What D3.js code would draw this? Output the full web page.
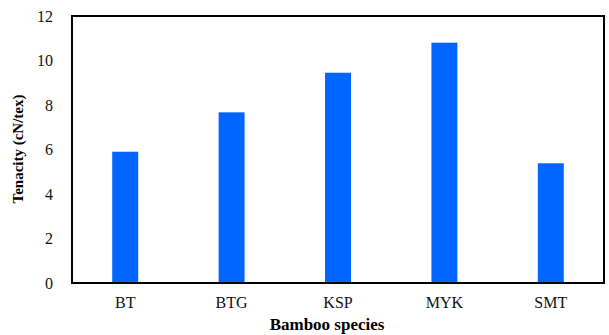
<!DOCTYPE html>
<html>
<head>
<meta charset="utf-8">
<script src="https://cdn.jsdelivr.net/npm/d3@7"></script>
<style>
  body { margin: 0; background: #fff; }
</style>
</head>
<body>
<div id="chart"></div>
<script>
// Chart data
const species = ["BT", "BTG", "KSP", "MYK", "SMT"];
const tenacity = [5.9, 7.67, 9.45, 10.8, 5.38];
const yTicks = [0, 2, 4, 6, 8, 10, 12];

const serif = "'Liberation Serif', 'Times New Roman', serif";
const margin = { top: 16, right: 5, bottom: 52, left: 72 };
const width = 609 - margin.left - margin.right;
const height = 335 - margin.top - margin.bottom;

const svg = d3.select("#chart")
    .append("svg")
    .attr("width", 609)
    .attr("height", 335)
    .append("g")
    .attr("transform", `translate(${margin.left}, ${margin.top})`);

const xScale = d3.scaleBand()
    .domain(species)
    .range([0, width])
    .paddingInner(0.756)
    .paddingOuter(0.378);

const yScale = d3.scaleLinear()
    .domain([0, 12])
    .range([height, 0]);

// Bars
svg.selectAll(".bar")
    .data(species)
    .enter()
    .append("rect")
    .attr("class", "bar")
    .attr("x", d => xScale(d))
    .attr("y", (d, i) => yScale(tenacity[i]))
    .attr("width", xScale.bandwidth())
    .attr("height", (d, i) => height - yScale(tenacity[i]))
    .style("fill", "#0066ff");

// Frame around plot
svg.append("rect")
    .attr("x", 0)
    .attr("y", 0)
    .attr("width", width)
    .attr("height", height)
    .style("fill", "none")
    .style("stroke", "#000")
    .style("stroke-width", 2);

// Axes (no tick marks)
const xAxis = svg.append("g")
    .attr("transform", `translate(0, ${height})`)
    .call(d3.axisBottom(xScale).tickSize(0).tickPadding(14));
xAxis.attr("font-family", serif).attr("font-size", 16);
xAxis.select(".domain").remove();
xAxis.selectAll("text").attr("dy", "0.71em").style("fill", "#111");

const yAxis = svg.append("g")
    .call(d3.axisLeft(yScale).tickValues(yTicks).tickSize(0).tickPadding(19));
yAxis.attr("font-family", serif).attr("font-size", 16);
yAxis.select(".domain").remove();
yAxis.selectAll("text").style("fill", "#111");

// Axis labels
svg.append("text")
    .attr("x", 255)
    .attr("y", height + 47)
    .attr("text-anchor", "middle")
    .style("font-family", serif)
    .style("font-size", "17px")
    .style("font-weight", "bold")
    .text("Bamboo species");

svg.append("text")
    .attr("transform", "rotate(-90)")
    .attr("x", -(149 - margin.top))
    .attr("y", -margin.left + 23)
    .attr("text-anchor", "middle")
    .style("font-family", serif)
    .style("font-size", "15px")
    .style("font-weight", "bold")
    .text("Tenacity (cN/tex)");
</script>
</body>
</html>
